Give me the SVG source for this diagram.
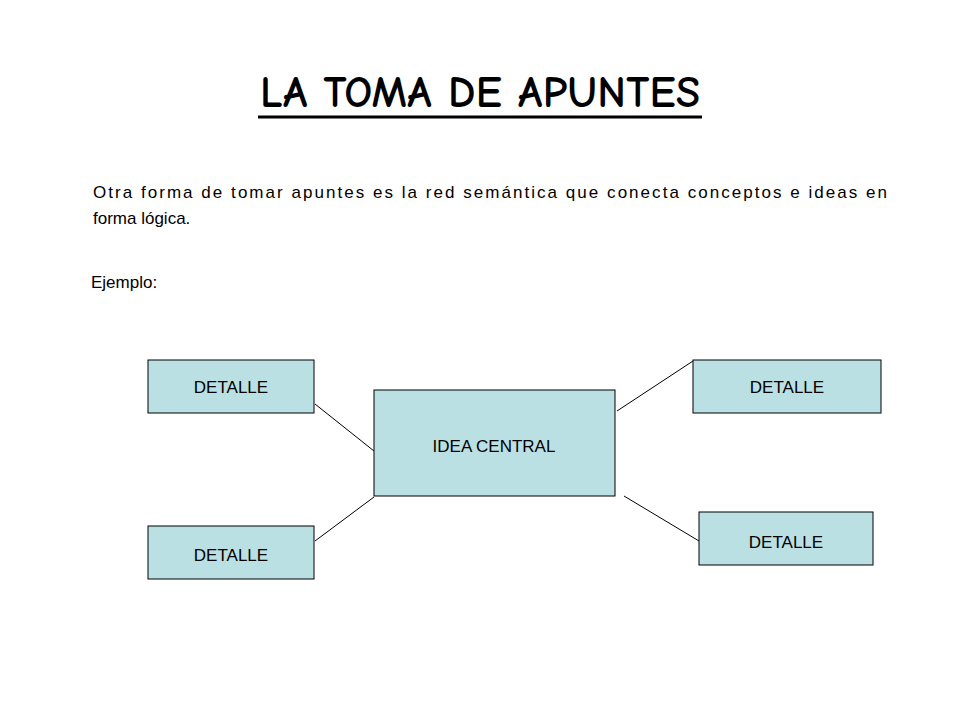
<svg xmlns="http://www.w3.org/2000/svg" width="960" height="720" viewBox="0 0 960 720">
<style>
.box{fill:#bbe0e3;stroke:#000;stroke-width:1}
.t{font-family:"Liberation Sans",Arial,sans-serif;font-size:17px;fill:#000}
.c{text-anchor:middle}
</style>
<rect width="960" height="720" fill="#fff"/>
<text x="480" y="107" class="c" textLength="440" style="font-family:'Comic Neue','DejaVu Sans Condensed',sans-serif;font-size:44px;font-weight:bold">LA TOMA DE APUNTES</text>
<line x1="258" y1="117" x2="702" y2="117" stroke="#000" stroke-width="3"/>
<text class="t" x="93" y="198" textLength="794" lengthAdjust="spacing">Otra forma de tomar apuntes es la red semántica que conecta conceptos e ideas en</text>
<text class="t" x="93" y="224">forma lógica.</text>
<text class="t" x="91" y="288">Ejemplo:</text>
<g id="connectors" stroke="#000" stroke-width="1">
<line x1="315" y1="404" x2="374" y2="451"/>
<line x1="315" y1="541" x2="374" y2="497"/>
<line x1="617" y1="411" x2="693" y2="361"/>
<line x1="624" y1="496" x2="699" y2="541"/>
</g>
<g id="center"><rect class="box" x="374" y="390" width="241" height="106"/><text class="t c" x="494" y="452">IDEA CENTRAL</text></g>
<g id="tl"><rect class="box" x="148" y="360" width="166" height="53"/><text class="t c" x="231" y="393">DETALLE</text></g>
<g id="tr"><rect class="box" x="693" y="360" width="188" height="53"/><text class="t c" x="787" y="393">DETALLE</text></g>
<g id="bl"><rect class="box" x="148" y="526" width="166" height="53"/><text class="t c" x="231" y="561">DETALLE</text></g>
<g id="br"><rect class="box" x="699" y="512" width="174" height="53"/><text class="t c" x="786" y="548">DETALLE</text></g>
</svg>
